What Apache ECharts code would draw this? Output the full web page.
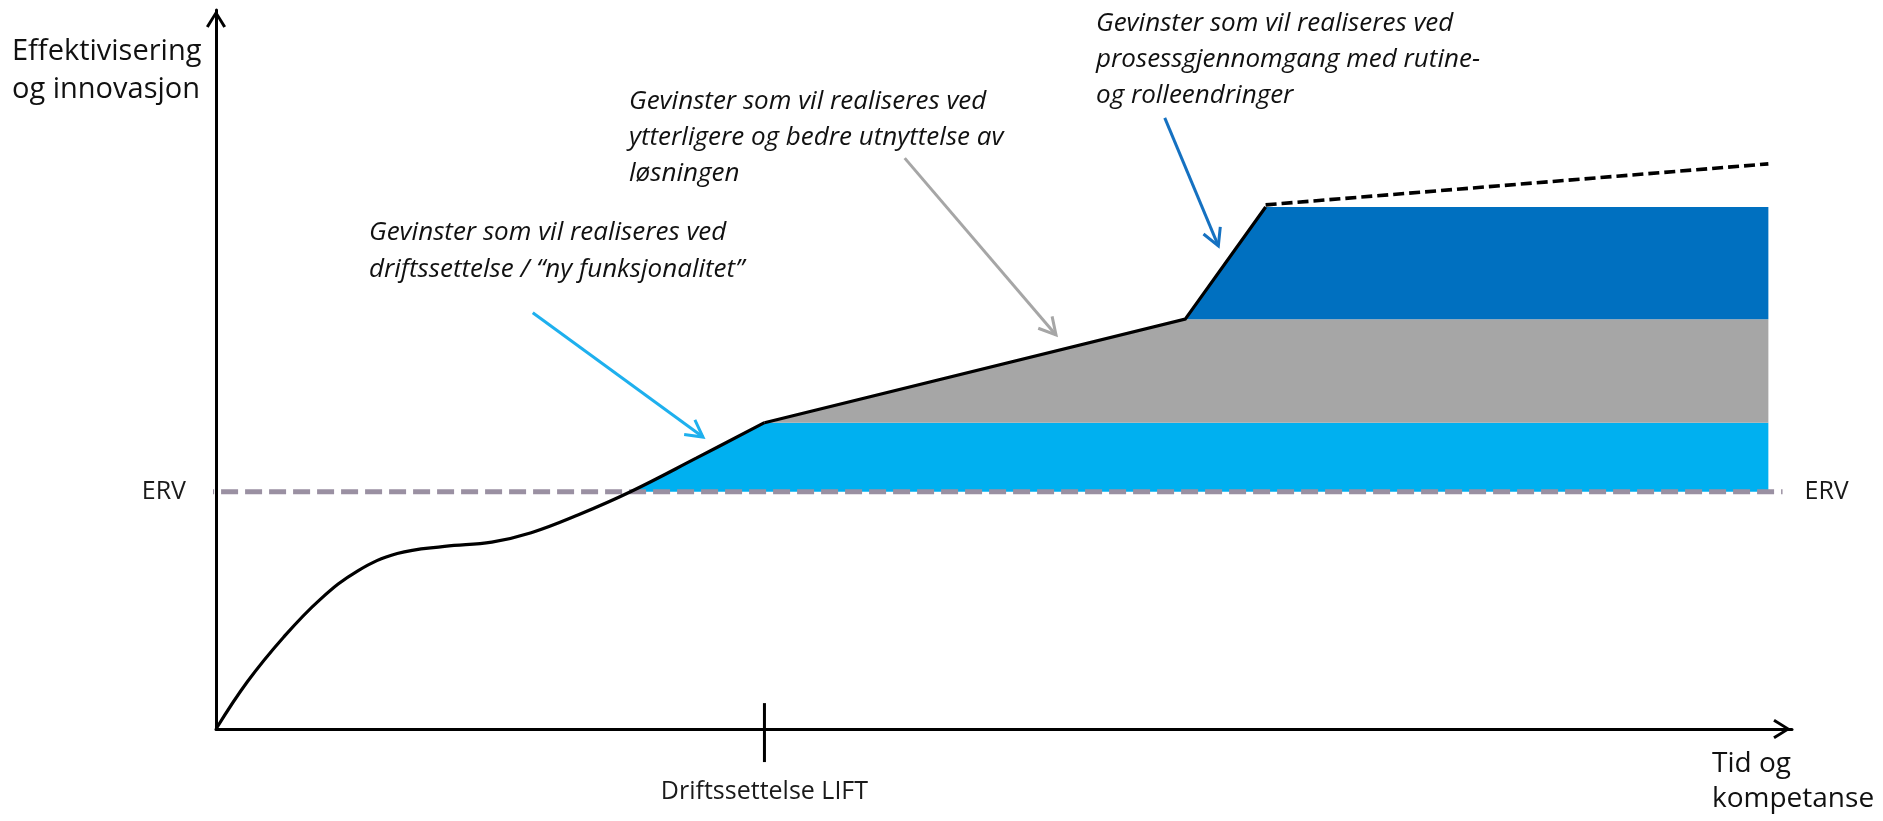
<!DOCTYPE html>
<html>
<head>
<meta charset="utf-8">
<script src="https://cdn.jsdelivr.net/npm/echarts@6/dist/echarts.min.js"></script>
<style>
html,body{margin:0;padding:0;background:#fff;}
#chart{width:1883px;height:821px;}
</style>
</head>
<body>
<div id="chart"></div>
<script>
// ---- data (x: Tid og kompetanse 0..100, y: Effektivisering og innovasjon 0..100) ----
var ervLevel = 33.0;
var ervLine = [[-1.2, 33.0], [99.4, 33.0]];
var developmentCurve = [[0, 0], [2.0, 6.6], [4.3, 12.8], [6.6, 18.0], [9.0, 22.0], [11.5, 24.4], [14.5, 25.4], [17.5, 26.0], [20.0, 27.3], [23.0, 29.8], [26.3, 33.0], [30.5, 37.7], [34.8, 42.6]];
var benefitLine = [[34.8, 42.6], [61.5, 57.0], [66.6, 72.6]];
var futureLine = [[66.6, 72.9], [98.5, 78.6]];
var lightBlueArea = [[26.3, 33.0], [30.5, 37.7], [34.8, 42.6], [98.5, 42.6]];
var grayArea = [[34.8, 42.6], [61.5, 57.0], [98.5, 57.0]];
var darkBlueArea = [[61.5, 57.0], [66.6, 72.6], [98.5, 72.6]];
var liftTick = [[34.8, -4.6], [34.8, 3.6]];
var liftValue = 34.8;
var arrows = [
  [20.1, 57.9, 30.9, 40.6],
  [43.7, 79.4, 53.3, 54.8],
  [60.2, 85.0, 63.6, 67.2]
];
var arrowColors = ['#1EB0EE', '#A6A6A6', '#1571C1'];
var yAxisName = ['Effektivisering', 'og innovasjon'];
var xAxisName = ['Tid og', 'kompetanse'];
var liftLabel = 'Driftssettelse LIFT';
var ervLabel = 'ERV';
var annotations = [
  ['Gevinster som vil realiseres ved', 'driftssettelse / \u201Cny funksjonalitet\u201D'],
  ['Gevinster som vil realiseres ved', 'ytterligere og bedre utnyttelse av', 'l\u00F8sningen'],
  ['Gevinster som vil realiseres ved', 'prosessgjennomgang med rutine-', 'og rolleendringer']
];

var chart = echarts.init(document.getElementById('chart'), null, {renderer: 'canvas'});
var FONT = '"Open Sans", "Noto Sans", sans-serif';
var chevron = 'path://M10 0 L20 16 L17.4 17.6 L10 5.2 L2.6 17.6 L0 16 Z';

function areaSeries(data, origin, color) {
  return {
    type: 'line', data: data, symbol: 'none', z: 1, silent: true,
    lineStyle: {width: 0, opacity: 0},
    areaStyle: {color: color, opacity: 1, origin: origin}
  };
}

var option = {
  animation: false,
  backgroundColor: '#ffffff',
  grid: {left: 216, right: 91, top: 10, bottom: 92, containLabel: false},
  xAxis: {
    type: 'value', min: 0, max: 100,
    splitLine: {show: false},
    axisTick: {show: false},
    axisLine: {show: true, lineStyle: {color: '#000', width: 3},
      symbol: ['none', chevron], symbolSize: [20, 20], symbolOffset: [0, -10]},
    axisLabel: {show: true, customValues: [liftValue], margin: 50,
      fontFamily: FONT, fontSize: 25, color: '#1a1a1a',
      formatter: function (v) { return Math.abs(v - liftValue) < 0.01 ? liftLabel : ''; }}
  },
  yAxis: {
    type: 'value', min: 0, max: 100,
    splitLine: {show: false},
    axisTick: {show: false},
    axisLine: {show: true, lineStyle: {color: '#000', width: 3},
      symbol: ['none', chevron], symbolSize: [20, 18], symbolOffset: [0, -9]},
    axisLabel: {show: true, customValues: [ervLevel], margin: 30,
      fontFamily: FONT, fontSize: 25, color: '#1a1a1a',
      formatter: function (v) { return Math.abs(v - ervLevel) < 0.01 ? ervLabel : ''; }}
  },
  series: [
    areaSeries(lightBlueArea, ervLevel, '#00B0F0'),
    areaSeries(grayArea, 42.6, '#A6A6A6'),
    areaSeries(darkBlueArea, 57.0, '#0070C0'),
    {
      type: 'line', data: ervLine, symbol: 'none', z: 2, clip: false, silent: true,
      lineStyle: {color: '#9A90A2', width: 5, type: [17, 7]},
      endLabel: {show: true, formatter: ervLabel, distance: 22, fontFamily: FONT, fontSize: 25, color: '#1a1a1a'}
    },
    {
      type: 'line', data: developmentCurve, symbol: 'none', smooth: 0.4, z: 3, silent: true,
      lineStyle: {color: '#000', width: 3.2}
    },
    {
      type: 'line', data: benefitLine, symbol: 'none', z: 3, silent: true,
      lineStyle: {color: '#000', width: 3.2, join: 'miter'}
    },
    {
      type: 'line', data: futureLine, symbol: 'none', z: 3, silent: true,
      lineStyle: {color: '#000', width: 3.6, type: [11, 5]}
    },
    {
      type: 'line', data: liftTick, symbol: 'none', z: 3, clip: false, silent: true,
      lineStyle: {color: '#000', width: 3}
    },
    {
      type: 'custom', z: 4, silent: true, clip: false,
      data: arrows.map(function (a, i) { return {value: a, itemStyle: {color: arrowColors[i]}}; }),
      renderItem: function (params, api) {
        var p0 = api.coord([api.value(0), api.value(1)]);
        var p1 = api.coord([api.value(2), api.value(3)]);
        var color = api.visual('color');
        var ang = Math.atan2(p1[1] - p0[1], p1[0] - p0[0]);
        var L = 19, spread = 0.5;
        var w1 = [p1[0] - L * Math.cos(ang - spread), p1[1] - L * Math.sin(ang - spread)];
        var w2 = [p1[0] - L * Math.cos(ang + spread), p1[1] - L * Math.sin(ang + spread)];
        var style = {stroke: color, lineWidth: 3, fill: null, lineJoin: 'miter', lineCap: 'butt'};
        return {
          type: 'group',
          children: [
            {type: 'line', shape: {x1: p0[0], y1: p0[1], x2: p1[0], y2: p1[1]}, style: style},
            {type: 'polyline', shape: {points: [w1, p1, w2]}, style: style}
          ]
        };
      }
    }
  ],
  graphic: [
    {type: 'text', left: 12, top: 33, style: {text: yAxisName.join('\n'), font: '29px ' + FONT, fontSize: 29, fontFamily: FONT, lineHeight: 38, fill: '#111'}},
    {type: 'text', left: 1712, top: 747, style: {text: xAxisName.join('\n'), font: '28px ' + FONT, fontSize: 28, fontFamily: FONT, lineHeight: 35, fill: '#111'}},
    {type: 'text', left: 369, top: 214, style: {text: annotations[0].join('\n'), font: 'italic 26px ' + FONT, fontStyle: 'italic', fontSize: 26, fontFamily: FONT, lineHeight: 37, fill: '#111'}},
    {type: 'text', left: 629, top: 84, style: {text: annotations[1].join('\n'), font: 'italic 26px ' + FONT, fontStyle: 'italic', fontSize: 26, fontFamily: FONT, lineHeight: 36, fill: '#111'}},
    {type: 'text', left: 1096, top: 6, style: {text: annotations[2].join('\n'), font: 'italic 26px ' + FONT, fontStyle: 'italic', fontSize: 26, fontFamily: FONT, lineHeight: 36, fill: '#111'}}
  ]
};
chart.setOption(option);
</script>
</body>
</html>
